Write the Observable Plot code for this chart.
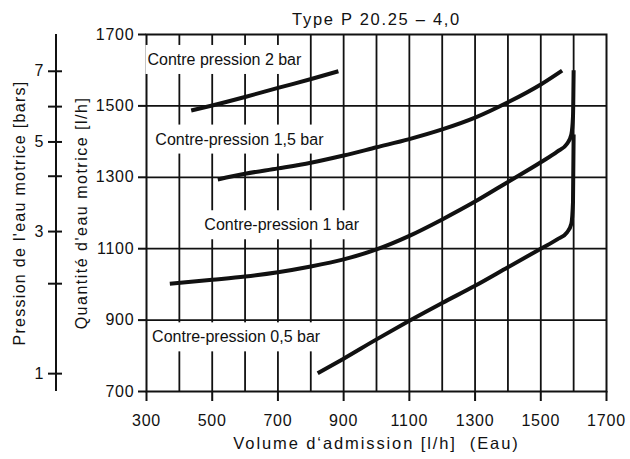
<!DOCTYPE html>
<html><head><meta charset="utf-8">
<script src="https://cdn.jsdelivr.net/npm/d3@7"></script>
<script src="https://cdn.jsdelivr.net/npm/@observablehq/plot@0.6"></script>
<style>body{margin:0;background:#fff} #chart{width:630px;height:459px}</style>
</head><body><div id="chart"></div>
<script>
// ---- texts ----
const title = "Type P 20.25 – 4,0";
const xLabel = "Volume d‘admission [l/h]  (Eau)";
const yLabel = "Quantité d'eau motrice [l/h]";
const pLabel = "Pression de l'eau motrice [bars]";

// ---- axes / grid ----
const xTicks = [300, 500, 700, 900, 1100, 1300, 1500, 1700];
const yTicks = [700, 900, 1100, 1300, 1500, 1700];
const xGrid = [400, 500, 600, 700, 800, 900, 1000, 1100, 1200, 1300, 1400, 1500, 1600];
const yGrid = [900, 1100, 1300, 1500];
// secondary pressure scale: flow level of each pressure tick
const pressureTickFlow = [750, 1002, 1148, 1303, 1399, 1498, 1597];
const pressureTickLabels = ["1", "", "3", "", "5", "", "7"];

// ---- curves (Volume d'admission, Quantité d'eau motrice) ----
const seriesNames = ["Contre-pression 0,5 bar", "Contre-pression 1 bar", "Contre-pression 1,5 bar", "Contre pression 2 bar"];
const c05x = [821, 900, 1000, 1100, 1200, 1300, 1400, 1500, 1550, 1580, 1593, 1598, 1600];
const c05y = [751, 792, 846, 898, 948, 996, 1048, 1100, 1126, 1146, 1170, 1230, 1420];
const c1x = [371, 500, 600, 700, 800, 900, 1000, 1100, 1200, 1300, 1400, 1500, 1550, 1580, 1593, 1598, 1600];
const c1y = [1002, 1013, 1022, 1034, 1050, 1070, 1098, 1136, 1182, 1232, 1287, 1342, 1372, 1394, 1420, 1470, 1600];
const c15x = [517, 600, 700, 800, 900, 1000, 1100, 1200, 1300, 1400, 1500, 1565];
const c15y = [1294, 1310, 1325, 1341, 1361, 1384, 1407, 1434, 1467, 1510, 1560, 1599];
const c2x = [436, 500, 600, 703, 804, 884];
const c2y = [1487, 1501, 1525, 1551, 1576, 1597];

// label anchor points (data units)
const labelX = [317, 476, 327, 303];
const labelY = [852, 1166, 1406, 1629];

// ---- build tables ----
const curveXs = [c05x, c1x, c15x, c2x];
const curveYs = [c05y, c1y, c15y, c2y];
const curveRows = [];
curveXs.forEach((xs, s) => xs.forEach((x, i) => curveRows.push({series: seriesNames[s], x, y: curveYs[s][i]})));
const labelRows = seriesNames.map((name, i) => ({name, x: labelX[i], y: labelY[i]}));
const pLabelByFlow = new Map(pressureTickFlow.map((f, i) => [f, pressureTickLabels[i]]));

const ink = "#111";
const chart = Plot.plot({
  width: 630, height: 459,
  marginLeft: 146, marginRight: 24, marginTop: 34, marginBottom: 68,
  style: {fontFamily: "'Liberation Sans', Arial, sans-serif", fontSize: "16px", color: ink, background: "#fff", overflow: "visible"},
  x: {domain: [300, 1700], axis: null},
  y: {domain: [700, 1700], axis: null},
  marks: [
    Plot.ruleX(xGrid, {stroke: ink, strokeWidth: 1.8}),
    Plot.ruleY(yGrid, {stroke: ink, strokeWidth: 1.8}),
    Plot.frame({stroke: ink, strokeWidth: 2}),
    Plot.axisX(xTicks, {tickSize: 10, tickPadding: 13, strokeWidth: 2, tickFormat: d => String(d), label: null, fontSize: 16}),
    Plot.axisY(yTicks, {tickSize: 8, tickPadding: 4, strokeWidth: 2, tickFormat: d => String(d), label: null, fontSize: 16}),
    // secondary pressure axis
    Plot.ruleX([300], {y1: 700, y2: 1700, dx: -90.5, stroke: ink, strokeWidth: 2}),
    Plot.axisY(pressureTickFlow, {anchor: "left", dx: -84, tickSize: 14, tickPadding: 5, strokeWidth: 2, tickFormat: d => pLabelByFlow.get(d), label: null, fontSize: 16}),
    // titles
    Plot.text([title], {text: d => d, frameAnchor: "top", textAnchor: "middle", lineAnchor: "middle", dy: -15, fontSize: 16.5}),
    Plot.text([xLabel], {text: d => d, frameAnchor: "bottom", textAnchor: "middle", lineAnchor: "middle", dy: 52, fontSize: 16.5}),
    Plot.text([yLabel], {text: d => d, frameAnchor: "left", textAnchor: "middle", dx: -65, rotate: -90, fontSize: 16}),
    Plot.text([pLabel], {text: d => d, frameAnchor: "left", textAnchor: "middle", dx: -127, rotate: -90, fontSize: 16}),
    // curve labels
    Plot.text(labelRows, {x: "x", y: "y", text: "name", textAnchor: "start", fontSize: 16}),
    // curves
    Plot.line(curveRows, {x: "x", y: "y", z: "series", stroke: ink, strokeWidth: 4, curve: "monotone-x", strokeLinecap: "butt"})
  ]
});
document.getElementById("chart").append(chart);

// typographic tweaks and white boxes behind curve labels (interrupting the grid)
const svgNS = "http://www.w3.org/2000/svg";
const spacing = new Map([[title, 1.7], [xLabel, 1.9], [yLabel, 1.5], [pLabel, 1.3]]);
chart.querySelectorAll("text").forEach(t => {
  const s = t.textContent;
  if (spacing.has(s)) t.setAttribute("letter-spacing", spacing.get(s));
  else if (/^\d+$/.test(s) && s.length > 1) t.setAttribute("letter-spacing", 0.8);
  if (seriesNames.includes(s)) {
    const b = t.getBBox();
    const r = document.createElementNS(svgNS, "rect");
    r.setAttribute("x", b.x - 2);
    r.setAttribute("y", b.y - 6);
    r.setAttribute("width", b.width + 4);
    r.setAttribute("height", b.height + 12);
    r.setAttribute("fill", "#fff");
    const tr = t.getAttribute("transform");
    if (tr) r.setAttribute("transform", tr);
    t.parentNode.insertBefore(r, t);
  }
});
</script></body></html>
